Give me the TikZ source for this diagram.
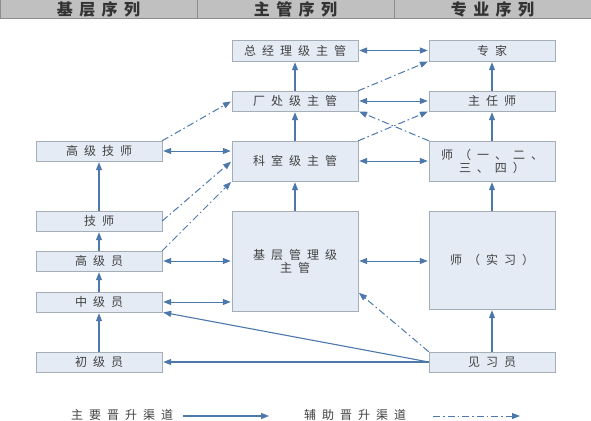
\documentclass[tikz,border=0pt]{standalone}
\usepackage{fontspec}
\setmainfont{Noto Sans CJK SC}
\newfontfamily\boxfont[LetterSpace=50]{Noto Sans CJK SC}
\newfontfamily\headfont[LetterSpace=40]{Noto Sans CJK SC}
\usetikzlibrary{arrows.meta, positioning}

\definecolor{boxfill}{HTML}{E4EBF5}
\definecolor{boxline}{HTML}{A5ADB7}
\definecolor{arrowblue}{HTML}{4C78AC}
\definecolor{headgray}{HTML}{C0C0C0}
\definecolor{headline}{HTML}{8C8C8C}
\definecolor{textgray}{HTML}{404040}

\begin{document}
\begin{tikzpicture}[x=1pt,y=-1pt,>={Triangle[length=8pt,width=6pt]},
  node distance=197pt,
  box/.style={rectangle,draw=boxline,fill=boxfill,minimum width=126pt,
    minimum height=20pt,inner sep=1pt,text=textgray,
    font=\boxfont\fontsize{12}{13}\selectfont},
  head/.style={rectangle,draw=headline,fill=headgray,line width=1pt,
    minimum width=197pt,minimum height=19pt,inner sep=0pt,text=black!80,
    font=\headfont\bfseries\fontsize{16}{16}\selectfont},
  main/.style={->,draw=arrowblue,line width=1.1pt,shorten >=1pt},
  both/.style={<->,draw=arrowblue,line width=1pt,shorten >=1pt,shorten <=1pt},
  aux/.style={->,draw=arrowblue,line width=1pt,shorten >=1pt,
    dash pattern=on 7pt off 3pt on 1.5pt off 3pt}]

  \useasboundingbox (0,0) rectangle (591,420);

  % header
  \node[head] (h1) at (98.5,9.5) {基层序列};
  \node[head] (h2) [right of=h1] {主管序列};
  \node[head] (h3) [right of=h2] {专业序列};

  % boxes
  \node[box, minimum height=21pt] (1) at (295,50.5) {总经理级主管};
  \node[box, minimum height=21pt] (2) [right of=1] {专家};
  \node[box] (3) at (295,101) {厂处级主管};
  \node[box] (4) [right of=3] {主任师};
  \node[box, minimum height=40pt] (5) at (295,161) {科室级主管};
  \node[box, minimum height=40pt, align=center] (6) [right of=5] {师（一、二、\\三、四）};
  \node[box, minimum height=100pt, align=center] (7) at (295,261) {基层管理级\\主管};
  \node[box, minimum height=98pt] (8) at (492,260) {师（实习）};
  \node[box] (9) at (492,362) {见习员};
  \node[box] (10) at (99,151) {高级技师};
  \node[box] (11) at (99,221) {技师};
  \node[box] (12) at (99,261) {高级员};
  \node[box] (13) at (99,302) {中级员};
  \node[box] (14) at (99,362) {初级员};

  % main channels
  \path[every edge/.style={main}]
    (3) edge (1)
    (5) edge (3)
    (7) edge (5)
    (4) edge (2)
    (6) edge (4)
    (8) edge (6)
    (9) edge (8)
    (11) edge (10)
    (12) edge (11)
    (13) edge (12)
    (14) edge (13)
    (9.west) edge (14.east)
    (9.west) edge (13.south east);

  \path[every edge/.style={both}]
    (1.east) edge (2.west)
    (3.east) edge (4.west)
    (5.east) edge (6.west)
    (10.east) edge (10 -| 5.west)
    (12.east) edge (12 -| 7.west)
    (13.east) edge (13 -| 7.west)
    (7.east) edge (7.east -| 8.west);

  % auxiliary channels
  \path[every edge/.style={aux}]
    (3.north east) edge (2.south west)
    (6.north west) edge (3.south east)
    (5.north east) edge (4.south west)
    (10.north east) edge (3.west)
    (11.east) edge (5.west)
    (12.north east) edge (5.south west)
    (9.north west) edge ([yshift=19pt]7.south east);

  % legend
  \node[text=textgray, font=\boxfont\fontsize{12}{13}\selectfont] (k1) at (122,415) {主要晋升渠道};
  \coordinate (k1s) at (183,416);
  \coordinate (k1e) at (270,416);
  \draw[main] (k1s) -- (k1e);
  \node[text=textgray, font=\boxfont\fontsize{12}{13}\selectfont] (k2) at (355,415) {辅助晋升渠道};
  \coordinate (k2s) at (433,416);
  \coordinate (k2e) at (521,416);
  \draw[aux] (k2s) -- (k2e);
\end{tikzpicture}
\end{document}
